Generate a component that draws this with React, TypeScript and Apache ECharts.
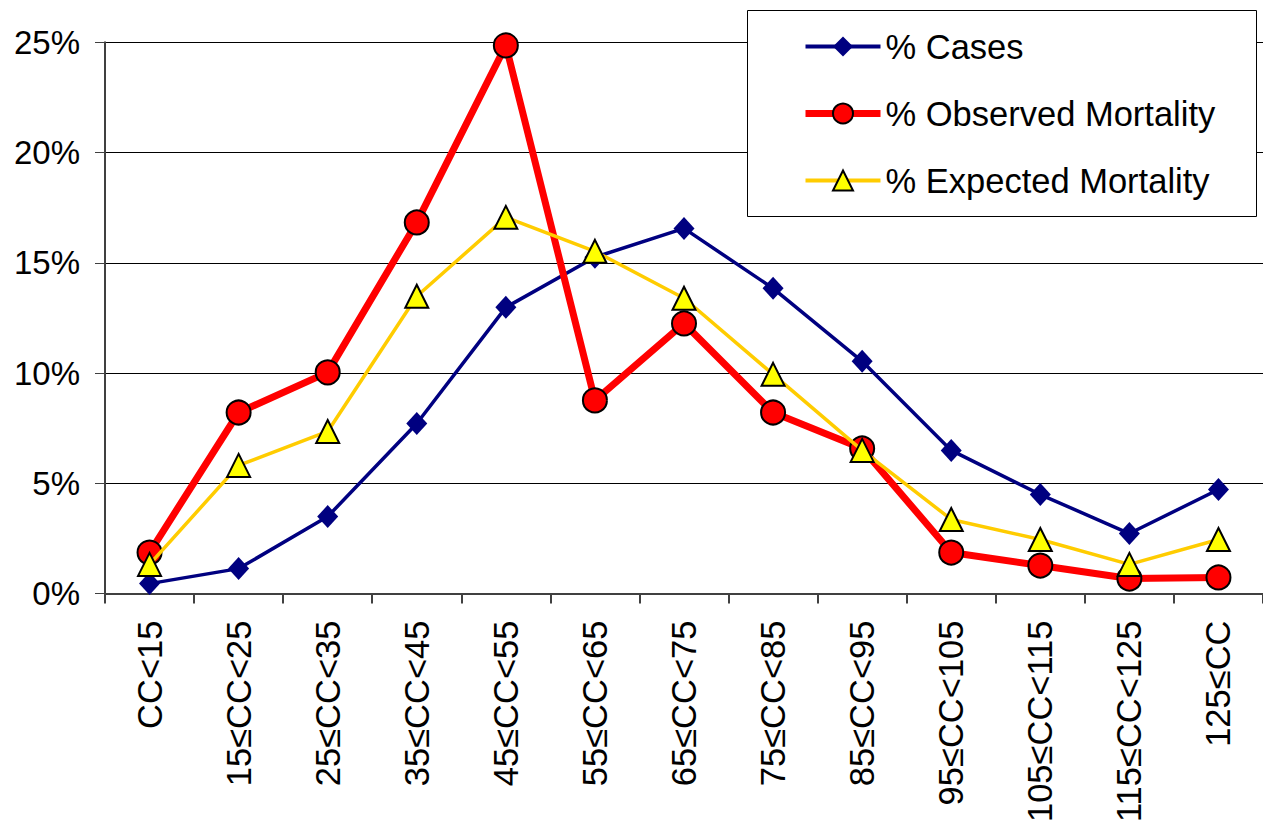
import React, { useEffect, useRef } from "react";
import * as echarts from "echarts";

const categories = [
  "CC<15", "15≤CC<25", "25≤CC<35", "35≤CC<45", "45≤CC<55", "55≤CC<65",
  "65≤CC<75", "75≤CC<85", "85≤CC<95", "95≤CC<105", "105≤CC<115", "115≤CC<125", "125≤CC",
];
const casesPct = [0.45, 1.13, 3.49, 7.71, 12.98, 15.25, 16.56, 13.84, 10.53, 6.49, 4.49, 2.72, 4.72];
const observedPct = [1.86, 8.21, 10.03, 16.83, 24.86, 8.76, 12.25, 8.21, 6.58, 1.86, 1.27, 0.68, 0.73];
const expectedPct = [1.32, 5.81, 7.35, 13.48, 17.06, 15.52, 13.39, 9.94, 6.49, 3.36, 2.45, 1.32, 2.45];
const seriesNames = ["% Cases", "% Observed Mortality", "% Expected Mortality"];

const FONT = "'Liberation Sans', Arial, sans-serif";

export default function App() {
  const ref = useRef<HTMLDivElement>(null);
  useEffect(() => {
    document.body.style.margin = "0";
    const chart = echarts.init(ref.current!, null, { renderer: "svg" });
    chart.setOption({
      animation: false,
      backgroundColor: "#ffffff",
      textStyle: { fontFamily: FONT },
      grid: { left: 105, right: 0, top: 42.3, bottom: 230.7, containLabel: false },
      graphic: [
        {
          type: "rect",
          shape: { x: 747.5, y: 10.5, width: 509, height: 206 },
          style: { fill: "#ffffff", stroke: "#000000", lineWidth: 1 },
          z: 10,
        },
      ],
      legend: {
        orient: "vertical",
        left: 802,
        top: 29,
        padding: 0,
        itemWidth: 75,
        itemHeight: 25,
        itemGap: 32,
        z: 20,
        textStyle: { fontFamily: FONT, fontSize: 34.5, color: "#000" },
        data: [
          { name: seriesNames[0], lineStyle: { width: 4 } },
          { name: seriesNames[1], lineStyle: { width: 7 } },
          { name: seriesNames[2], lineStyle: { width: 4 } },
        ],
      },
      xAxis: {
        type: "category",
        data: categories,
        boundaryGap: true,
        axisLine: { lineStyle: { color: "#404040", width: 2 } },
        axisTick: { show: true, length: 10, lineStyle: { color: "#404040", width: 2 } },
        axisLabel: {
          rotate: 90,
          margin: 27,
          fontSize: 34.5,
          fontFamily: FONT,
          color: "#000",
          interval: 0,
        },
      },
      yAxis: {
        type: "value",
        min: 0,
        max: 25,
        interval: 5,
        axisLine: { show: true, lineStyle: { color: "#404040", width: 2 } },
        axisTick: { show: true, length: 10, lineStyle: { color: "#404040", width: 1 } },
        splitLine: { show: true, lineStyle: { color: "#000000", width: 1 } },
        axisLabel: {
          formatter: "{value}%",
          margin: 25,
          fontSize: 33,
          fontFamily: FONT,
          color: "#000",
        },
      },
      series: [
        {
          name: seriesNames[0],
          type: "line",
          data: casesPct,
          symbol: "diamond",
          symbolSize: [21, 23],
          lineStyle: { color: "#000080", width: 3.5 },
          itemStyle: { color: "#000080", borderWidth: 0 },
          z: 3,
        },
        {
          name: seriesNames[1],
          type: "line",
          data: observedPct,
          symbol: "circle",
          symbolSize: 24,
          lineStyle: { color: "#FF0000", width: 7 },
          itemStyle: { color: "#FF0000", borderColor: "#000000", borderWidth: 2 },
          z: 4,
        },
        {
          name: seriesNames[2],
          type: "line",
          data: expectedPct,
          symbol: "triangle",
          symbolSize: 23,
          lineStyle: { color: "#FFCC00", width: 3.5 },
          itemStyle: { color: "#FFFF00", borderColor: "#000000", borderWidth: 2 },
          z: 5,
        },
      ],
    });
    return () => chart.dispose();
  }, []);
  return <div ref={ref} style={{ width: 1263, height: 825 }} />;
}
